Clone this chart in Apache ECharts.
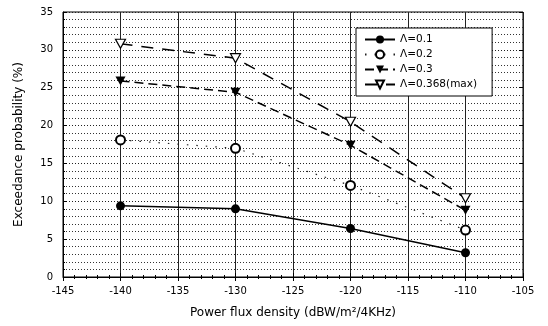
<!DOCTYPE html>
<html>
<head>
<meta charset="utf-8">
<script src="https://cdn.jsdelivr.net/npm/echarts@6/dist/echarts.min.js"></script>
<style>
  html, body { margin: 0; padding: 0; background: #fff; }
  #chart { width: 548px; height: 326px; }
</style>
</head>
<body>
<div id="chart"></div>
<script>
// x: power flux density (dBW/m2/4KHz)
var pfd = [-140, -130, -120, -110];
var lambda01 = [9.4, 9.0, 6.4, 3.2];
var lambda02 = [18.1, 17.0, 12.1, 6.2];
var lambda03 = [25.9, 24.4, 17.4, 8.8];
var lambdaMax = [30.8, 28.9, 20.5, 10.4];
var seriesNames = ['\u039b=0.1', '\u039b=0.2', '\u039b=0.3', '\u039b=0.368(max)'];

function pairs(ys) {
  var out = [];
  for (var i = 0; i < pfd.length; i++) out.push([pfd[i], ys[i]]);
  return out;
}

var downTri = 'path://M0,0 L10,0 L5,9 Z';
var font = 'DejaVu Sans, Arial, sans-serif';

var chart = echarts.init(document.getElementById('chart'));
var option = {
  backgroundColor: '#fff',
  animation: false,
  grid: {
    left: 63, right: 25, top: 12, bottom: 49,
    show: true, borderColor: '#000', borderWidth: 1
  },
  legend: {
    orient: 'vertical',
    left: 356, top: 28,
    backgroundColor: '#fff',
    borderColor: '#000', borderWidth: 1,
    padding: [6, 15, 6, 8],
    itemWidth: 30, itemHeight: 10, itemGap: 4,
    textStyle: { fontFamily: font, fontSize: 10.5, color: '#000' },
    data: seriesNames
  },
  xAxis: [{
    type: 'value', min: -145, max: -105, interval: 5,
    name: 'Power flux density (dBW/m\u00b2/4KHz)',
    nameLocation: 'middle', nameGap: 30,
    nameTextStyle: { fontFamily: font, fontSize: 12, color: '#000' },
    axisLine: { onZero: false, lineStyle: { color: '#000' } },
    axisTick: { inside: true, length: 4, lineStyle: { color: '#000' } },
    minorTick: { show: true, splitNumber: 5, length: 2, lineStyle: { color: '#000' } },
    axisLabel: { fontFamily: font, fontSize: 10, color: '#000', margin: 9 },
    splitLine: { show: true, lineStyle: { color: '#222', width: 1 } }
  }, {
    type: 'value', min: -145, max: -105, interval: 5, position: 'top',
    axisLine: { show: false },
    axisTick: { inside: true, length: 4, lineStyle: { color: '#000' } },
    minorTick: { show: true, splitNumber: 5, length: 2, lineStyle: { color: '#000' } },
    axisLabel: { show: false },
    splitLine: { show: false }
  }],
  yAxis: [{
    type: 'value', min: 0, max: 35, interval: 5,
    name: 'Exceedance probability (%)',
    nameLocation: 'middle', nameGap: 38,
    nameTextStyle: { fontFamily: font, fontSize: 12, color: '#000' },
    axisLine: { show: true, lineStyle: { color: '#000' } },
    axisTick: { show: true, inside: true, length: 4, lineStyle: { color: '#000' } },
    minorTick: { show: true, splitNumber: 5, length: 2, lineStyle: { color: '#000' } },
    axisLabel: { fontFamily: font, fontSize: 10, color: '#000', margin: 10 },
    splitLine: { show: true, lineStyle: { color: '#222', type: [1, 2], width: 1 } },
    minorSplitLine: { show: true, lineStyle: { color: '#333', type: [1, 2], width: 1 } }
  }, {
    type: 'value', min: 0, max: 35, interval: 5, position: 'right',
    axisLine: { show: false },
    axisTick: { show: true, inside: true, length: 4, lineStyle: { color: '#000' } },
    axisLabel: { show: false },
    splitLine: { show: false }
  }],
  series: [{
    name: seriesNames[0], type: 'line', data: pairs(lambda01),
    symbol: 'circle', symbolSize: 9,
    itemStyle: { color: '#000' },
    lineStyle: { color: '#000', width: 1.5 }
  }, {
    name: seriesNames[1], type: 'line', data: pairs(lambda02),
    symbol: 'emptyCircle', symbolSize: 9,
    itemStyle: { color: '#000', borderWidth: 1.2 },
    lineStyle: { color: '#222', width: 1.2, type: [1.5, 8] }
  }, {
    name: seriesNames[2], type: 'line', data: pairs(lambda03),
    symbol: downTri, symbolSize: [10, 9],
    itemStyle: { color: '#000' },
    lineStyle: { color: '#000', width: 1.5, type: [9, 5] }
  }, {
    name: seriesNames[3], type: 'line', data: pairs(lambdaMax),
    symbol: downTri, symbolSize: [10, 9],
    itemStyle: { color: '#fff', borderColor: '#000', borderWidth: 1.2 },
    lineStyle: { color: '#000', width: 1.5, type: [12, 9] }
  }]
};
chart.setOption(option);
</script>
</body>
</html>
